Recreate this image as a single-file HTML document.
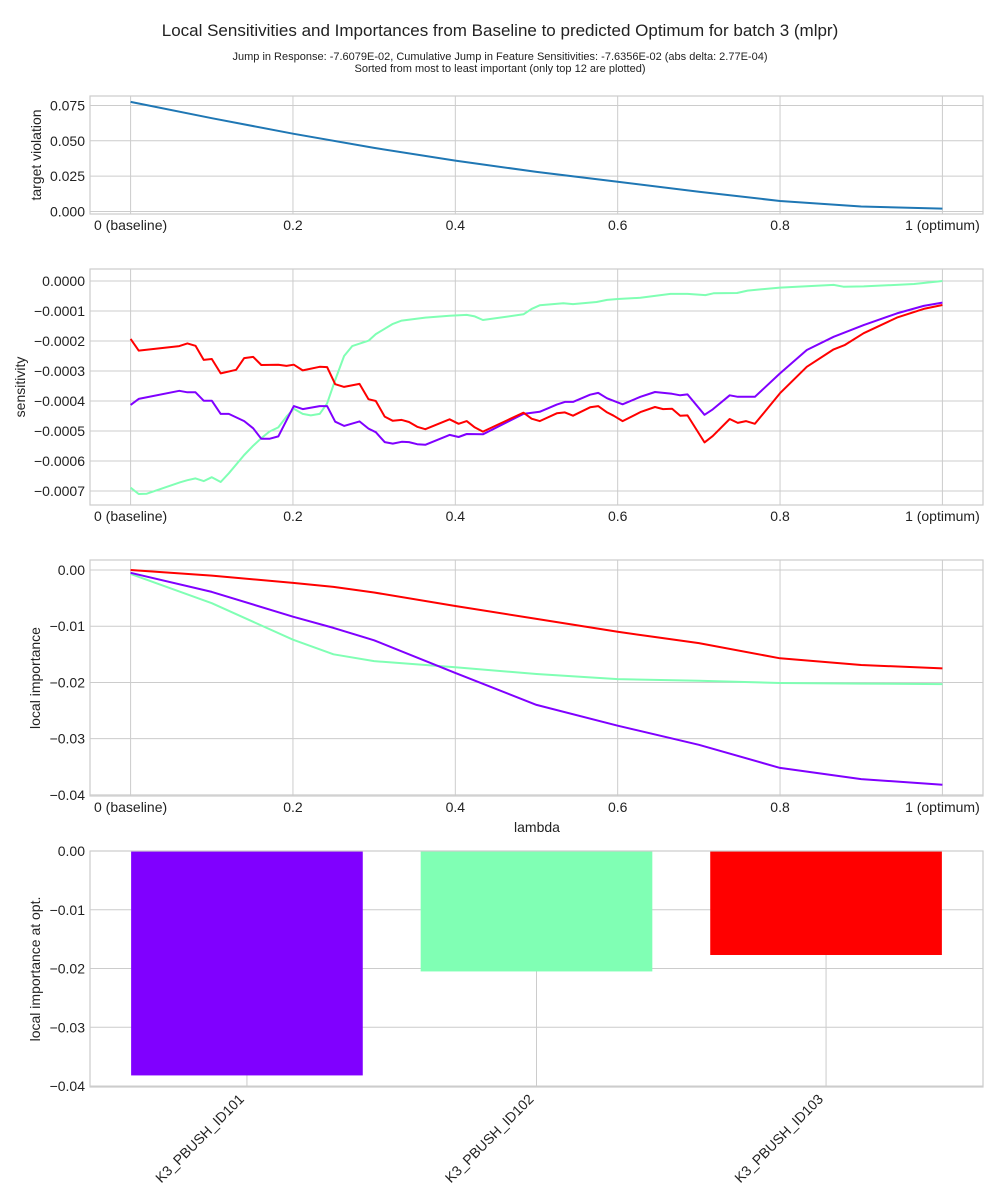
<!DOCTYPE html>
<html><head><meta charset="utf-8">
<style>
html,body{margin:0;padding:0;background:#fff;}
svg{display:block;font-family:"Liberation Sans",sans-serif;}
</style></head>
<body>
<svg id="chart" width="1000" height="1200" viewBox="0 0 1000 1200" xmlns="http://www.w3.org/2000/svg">
<text x="500" y="36" text-anchor="middle" font-size="17" fill="#222">Local Sensitivities and Importances from Baseline to predicted Optimum for batch 3  (mlpr)</text>
<text x="500" y="60" text-anchor="middle" font-size="11" fill="#222">Jump in Response: -7.6079E-02, Cumulative Jump in Feature Sensitivities: -7.6356E-02 (abs delta: 2.77E-04)</text>
<text x="500" y="72" text-anchor="middle" font-size="11" fill="#222">Sorted from most to least important (only top 12 are plotted)</text>
</svg>
<script>
// ---- data ----
const lambdaTicks = [0, 0.2, 0.4, 0.6, 0.8, 1];
const lambdaTickLabels = ['0 (baseline)', '0.2', '0.4', '0.6', '0.8', '1 (optimum)'];
const violationLambda = [0, 0.1, 0.2, 0.3, 0.4, 0.5, 0.6, 0.7, 0.8, 0.9, 1];
const violationValues = [0.0775, 0.066, 0.055, 0.045, 0.036, 0.028, 0.021, 0.014, 0.0074, 0.0035, 0.002];
const violationTicks = [0, 0.025, 0.05, 0.075];
const violationTickLabels = ['0.000', '0.025', '0.050', '0.075'];

const sensRedL = [0,.01,.06,.07,.08,.09,.10,.111,.13,.14,.151,.161,.182,.192,.201,.212,.233,.242,.252,.263,.282,.293,.302,.313,.323,.334,.343,.353,.363,.393,.404,.414,.424,.434,.484,.494,.504,.525,.535,.545,.566,.576,.587,.595,.606,.628,.646,.656,.667,.677,.686,.707,.717,.738,.748,.758,.769,.800,.833,.866,.880,.903,.944,.977,1.0];
const sensRedV = [-1.93,-2.32,-2.17,-2.08,-2.16,-2.63,-2.6,-3.08,-2.96,-2.57,-2.53,-2.8,-2.79,-2.83,-2.79,-2.98,-2.86,-2.87,-3.44,-3.53,-3.43,-3.94,-4.0,-4.52,-4.66,-4.63,-4.7,-4.86,-4.94,-4.61,-4.76,-4.67,-4.88,-5.02,-4.39,-4.59,-4.67,-4.41,-4.38,-4.49,-4.21,-4.17,-4.38,-4.49,-4.67,-4.37,-4.2,-4.27,-4.26,-4.49,-4.48,-5.38,-5.17,-4.6,-4.73,-4.67,-4.76,-3.74,-2.86,-2.28,-2.13,-1.74,-1.22,-0.93,-0.80];
const sensPurpleL = [0,.01,.06,.07,.08,.09,.10,.111,.121,.14,.151,.161,.171,.182,.201,.212,.233,.242,.252,.263,.282,.293,.302,.313,.323,.334,.343,.353,.363,.393,.404,.414,.434,.484,.504,.525,.535,.545,.566,.576,.587,.606,.628,.646,.667,.677,.686,.707,.717,.738,.748,.769,.800,.833,.866,.903,.944,.977,1.0];
const sensPurpleV = [-4.13,-3.93,-3.66,-3.71,-3.71,-3.99,-3.99,-4.43,-4.43,-4.67,-4.91,-5.26,-5.26,-5.18,-4.17,-4.27,-4.17,-4.17,-4.69,-4.83,-4.68,-4.92,-5.04,-5.37,-5.42,-5.36,-5.37,-5.44,-5.46,-5.13,-5.2,-5.1,-5.11,-4.43,-4.36,-4.12,-4.03,-4.03,-3.79,-3.73,-3.91,-4.11,-3.86,-3.7,-3.76,-3.81,-3.78,-4.46,-4.28,-3.81,-3.86,-3.86,-3.08,-2.3,-1.86,-1.47,-1.08,-0.83,-0.72];
const sensGreenL = [0,.01,.02,.061,.07,.08,.09,.10,.111,.121,.14,.151,.161,.171,.182,.192,.201,.212,.222,.233,.242,.252,.263,.273,.293,.302,.323,.334,.363,.393,.414,.424,.434,.484,.494,.504,.533,.545,.574,.587,.6,.628,.665,.686,.708,.718,.747,.76,.8,.866,.878,.903,.965,1.0];
const sensGreenV = [-6.89,-7.1,-7.09,-6.71,-6.64,-6.58,-6.67,-6.54,-6.7,-6.41,-5.8,-5.49,-5.24,-5.02,-4.88,-4.52,-4.26,-4.43,-4.48,-4.43,-4.08,-3.3,-2.5,-2.17,-1.99,-1.77,-1.43,-1.32,-1.22,-1.16,-1.13,-1.18,-1.3,-1.11,-0.93,-0.81,-0.74,-0.77,-0.7,-0.63,-0.6,-0.56,-0.43,-0.43,-0.47,-0.41,-0.4,-0.32,-0.22,-0.13,-0.19,-0.18,-0.1,0.0];
const sensTicks = [0,-1,-2,-3,-4,-5,-6,-7];
const sensTickLabels = ['0.0000','\u22120.0001','\u22120.0002','\u22120.0003','\u22120.0004','\u22120.0005','\u22120.0006','\u22120.0007'];

const impLambda = [0, 0.1, 0.2, 0.25, 0.3, 0.4, 0.5, 0.6, 0.7, 0.8, 0.9, 1];
const impRed = [0, -0.001, -0.0023, -0.003, -0.004, -0.0064, -0.0087, -0.011, -0.013, -0.0157, -0.0169, -0.0175];
const impPurple = [-0.0005, -0.0039, -0.0083, -0.0103, -0.0125, -0.0183, -0.024, -0.0277, -0.0311, -0.0352, -0.0372, -0.0382];
const impGreen = [-0.0007, -0.0059, -0.0124, -0.015, -0.0162, -0.0173, -0.0185, -0.0194, -0.0197, -0.0201, -0.0202, -0.0203];
const impTicks = [0, -0.01, -0.02, -0.03, -0.04];
const impTickLabels = ['0.00','\u22120.01','\u22120.02','\u22120.03','\u22120.04'];

const barCategories = ['K3_PBUSH_ID101', 'K3_PBUSH_ID102', 'K3_PBUSH_ID103'];
const barValues = [-0.0382, -0.0205, -0.0177];

// ---- drawing ----
const NS = 'http://www.w3.org/2000/svg';
const svg = document.getElementById('chart');
function el(tag, attrs, parent) {
  const e = document.createElementNS(NS, tag);
  for (const k in attrs) e.setAttribute(k, attrs[k]);
  (parent || svg).appendChild(e);
  return e;
}
const X0 = 90, X1 = 983;
function lamX(l) { return X0 + (l + 0.05) / 1.1 * (X1 - X0); }

function makePanel(name, top, bottom, ymin, ymax) {
  const g = el('g', {});
  
  
  const ys = v => bottom - (v - ymin) / (ymax - ymin) * (bottom - top);
  return { g, ys, top, bottom };
}
function frame(p) {
  const r = el('rect', { x: X0, y: p.top, width: X1 - X0, height: p.bottom - p.top, fill: 'none', stroke: '#cccccc', 'stroke-width': 1.2 }, p.g);
  
  
}
function yAxis(p, ticks, labels, title, titleX) {
  ticks.forEach((t, i) => {
    const y = p.ys(t);
    const gl = el('line', { x1: X0, x2: X1, y1: y, y2: y, stroke: '#cccccc', 'stroke-width': 1 }, p.g);
    
    
    const tx = el('text', { x: X0 - 5, y: y + 5, 'text-anchor': 'end', 'font-size': 14, fill: '#222' }, p.g);
    
    
    tx.textContent = labels[i];
  });
  const cy = (p.top + p.bottom) / 2;
  const tt = el('text', { x: titleX, y: cy, 'text-anchor': 'middle', 'font-size': 14, fill: '#222', transform: `rotate(-90 ${titleX} ${cy})` }, p.g);
  
  
  tt.textContent = title;
}
function xLambda(p) {
  lambdaTicks.forEach((t, i) => {
    const x = lamX(t);
    const gl = el('line', { x1: x, x2: x, y1: p.top, y2: p.bottom, stroke: '#cccccc', 'stroke-width': 1 }, p.g);
    
    
    const tx = el('text', { x: x, y: p.bottom + 16, 'text-anchor': 'middle', 'font-size': 14, fill: '#222' }, p.g);
    
    
    tx.textContent = lambdaTickLabels[i];
  });
}
function line(p, xs, vs, color, name) {
  const d = xs.map((l, i) => (i ? 'L' : 'M') + lamX(l).toFixed(1) + ',' + p.ys(vs[i]).toFixed(1)).join('');
  const pa = el('path', { d, fill: 'none', stroke: color, 'stroke-width': 2, 'stroke-linejoin': 'round' }, p.g);
  
  
}

// panel 1
const p1 = makePanel('target-violation-panel', 96, 214, -0.0018, 0.0817);
xLambda(p1); yAxis(p1, violationTicks, violationTickLabels, 'target violation', 41); frame(p1);
line(p1, violationLambda, violationValues, '#1f77b4', 'target-violation-line');

// panel 2
const p2 = makePanel('sensitivity-panel', 269, 505, -7.4667, 0.4);
xLambda(p2); yAxis(p2, sensTicks, sensTickLabels, 'sensitivity', 25); frame(p2);
line(p2, sensGreenL, sensGreenV, '#80ffb4', 'sensitivity-line-id102');
line(p2, sensPurpleL, sensPurpleV, '#8000ff', 'sensitivity-line-id101');
line(p2, sensRedL, sensRedV, '#ff0000', 'sensitivity-line-id103');

// panel 3
const p3 = makePanel('local-importance-panel', 560, 796, -0.0402, 0.00178);
xLambda(p3); yAxis(p3, impTicks, impTickLabels, 'local importance', 40); frame(p3);
line(p3, impLambda, impGreen, '#80ffb4', 'importance-line-id102');
line(p3, impLambda, impPurple, '#8000ff', 'importance-line-id101');
line(p3, impLambda, impRed, '#ff0000', 'importance-line-id103');
const xt = el('text', { x: 537, y: 832, 'text-anchor': 'middle', 'font-size': 14, fill: '#222' }, p3.g);


xt.textContent = 'lambda';

// panel 4 bars
const p4 = makePanel('importance-at-optimum-panel', 851, 1087, -0.04017, 0);
const BXMIN = -0.542, BXMAX = 2.542;
const bx = i => X0 + (i - BXMIN) / (BXMAX - BXMIN) * (X1 - X0);
const bw = 0.8 / (BXMAX - BXMIN) * (X1 - X0);
const barColors = ['#8000ff', '#80ffb4', '#ff0000'];
barCategories.forEach((c, i) => {
  const gl = el('line', { x1: bx(i), x2: bx(i), y1: p4.top, y2: p4.bottom, stroke: '#cccccc', 'stroke-width': 1 }, p4.g);
  
  
});
yAxis(p4, impTicks, impTickLabels, 'local importance at opt.', 40);
barCategories.forEach((c, i) => {
  const y0 = p4.ys(0), y1 = p4.ys(barValues[i]);
  const r = el('rect', { x: bx(i) - bw / 2, y: Math.min(y0, y1), width: bw, height: Math.abs(y1 - y0), fill: barColors[i] }, p4.g);
  
  
  const tx = el('text', { x: bx(i) - 2, y: 1100, 'text-anchor': 'end', 'font-size': 14, fill: '#222', transform: `rotate(-45 ${bx(i) - 2} 1100)` }, p4.g);
  
  
  tx.textContent = c;
});
frame(p4);
</script>
</body></html>
